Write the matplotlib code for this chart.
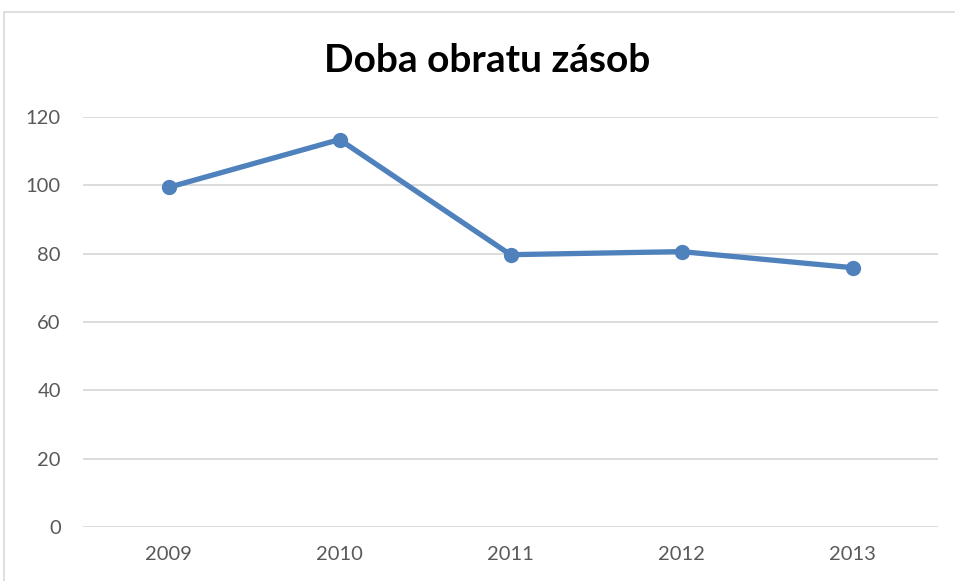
import matplotlib.pyplot as plt
from matplotlib.patches import Rectangle

years = ['2009', '2010', '2011', '2012', '2013']
values = [99.4, 113.4, 79.7, 80.6, 75.9]
y_ticks = [0, 20, 40, 60, 80, 100, 120]

plt.rcParams['font.family'] = ['Lato', 'DejaVu Sans']

fig = plt.figure(figsize=(9.55, 5.81), dpi=100)
ax = fig.add_axes([83 / 955, 1 - 527 / 581, 855 / 955, 410 / 581])

# chart frame (only top and left edges visible in the picture)
fig.patches.append(Rectangle((4 / 955, -0.1), 1.2, 1 - 12 / 581 + 0.1,
                             transform=fig.transFigure, fill=False,
                             edgecolor='#D9D9D9', linewidth=1.2))

x = range(len(years))
ax.plot(x, values, color='#4F81BD', linewidth=3.8, marker='o',
        markersize=10, solid_capstyle='round', zorder=3)

ax.set_xlim(-0.5, len(years) - 0.5)
ax.set_ylim(0, 120)
ax.set_xticks(list(x))
ax.set_xticklabels(years)
ax.set_yticks(y_ticks)
ax.grid(axis='y', color='#D9D9D9', linewidth=1.3)
ax.set_axisbelow(True)
for s in ax.spines.values():
    s.set_visible(False)
ax.tick_params(length=0, labelsize=14.5, labelcolor='#595959')
ax.tick_params(axis='x', pad=14)
ax.tick_params(axis='y', pad=16)

fig.text(487 / 955, 1 - 60 / 581, 'Doba obratu zásob', ha='center', va='center',
         fontsize=28, fontweight='bold', color='black')

fig.savefig('out.png', dpi=100)
